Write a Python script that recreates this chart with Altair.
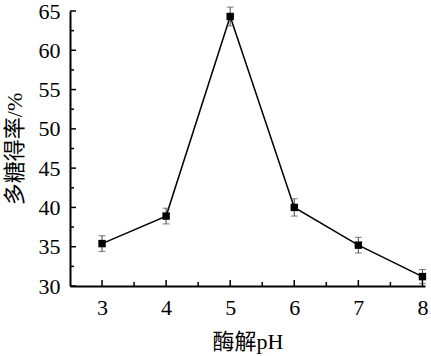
import altair as alt
import pandas as pd

ph = [3, 4, 5, 6, 7, 8]
yield_pct = [35.4, 38.9, 64.3, 40.0, 35.2, 31.2]
err = [1.0, 1.0, 1.2, 1.1, 1.0, 0.9]

x_major = [3, 4, 5, 6, 7, 8]
x_minor = [3.5, 4.5, 5.5, 6.5, 7.5]
y_major = [30, 35, 40, 45, 50, 55, 60, 65]
y_minor = [32.5, 37.5, 42.5, 47.5, 52.5, 57.5, 62.5]

W, H = 355, 275
FONT = "Liberation Serif, Times New Roman, Noto Sans CJK SC"

df = pd.DataFrame({"ph": ph, "y": yield_pct, "err": err})
df["lo"] = df["y"] - df["err"]
df["hi"] = df["y"] + df["err"]

xs = alt.Scale(domain=[2.5, 8.04], nice=False, zero=False)
ys = alt.Scale(domain=[30, 65], nice=False, zero=False)

xaxis = alt.Axis(title="酶解pH", values=x_major, format="d", tickSize=0, labelPadding=11,
                 titlePadding=13, domainWidth=2, domainColor="black", grid=False,
                 labelFont=FONT, titleFont=FONT, labelFontSize=22, titleFontSize=22,
                 labelColor="black", titleColor="black", titleFontWeight="normal")
yaxis = alt.Axis(title="多糖得率/%", values=y_major, format="d", tickSize=0, labelPadding=10,
                 titlePadding=12, domainWidth=2, domainColor="black", grid=False,
                 labelFont=FONT, titleFont=FONT, labelFontSize=22, titleFontSize=22,
                 labelColor="black", titleColor="black", titleFontWeight="normal")

X = lambda f: alt.X(f, scale=xs, axis=xaxis, title="酶解pH")
Y = lambda f: alt.Y(f, scale=ys, axis=yaxis, title="多糖得率/%")

base = alt.Chart(df)

line = base.mark_line(color="black", strokeWidth=1.5).encode(x=X("ph:Q"), y=Y("y:Q"))
ebar = base.mark_rule(color="#444", strokeWidth=1).encode(x=X("ph:Q"), y=Y("lo:Q"), y2="hi:Q")
cap_lo = base.mark_tick(color="#444", orient="horizontal", size=7, thickness=1).encode(
    x=X("ph:Q"), y=Y("lo:Q"))
cap_hi = base.mark_tick(color="#444", orient="horizontal", size=7, thickness=1).encode(
    x=X("ph:Q"), y=Y("hi:Q"))
pts = base.mark_point(shape="square", filled=True, color="black", size=55, opacity=1).encode(
    x=X("ph:Q"), y=Y("y:Q"))

def xt(vals, length):
    return alt.Chart(pd.DataFrame({"v": vals})).mark_rule(color="black", strokeWidth=1.5).encode(
        x=X("v:Q"), y=alt.value(H), y2=alt.value(H - length)
    )

def yt(vals, length):
    return alt.Chart(pd.DataFrame({"v": vals})).mark_rule(color="black", strokeWidth=1.5).encode(
        y=Y("v:Q"), x=alt.value(0), x2=alt.value(length)
    )

chart = alt.layer(
    line, ebar, cap_lo, cap_hi, pts,
    xt(x_major, 6), xt(x_minor, 4), yt(y_major, 6), yt(y_minor, 4),
).properties(
    width=W, height=H,
    autosize=alt.AutoSizeParams(type="none"),
    padding={"left": 70, "top": 11, "right": 6, "bottom": 70},
    background="white",
).configure_view(stroke=None)

chart.save("out.html", embed_options={"renderer": "svg", "actions": False})
